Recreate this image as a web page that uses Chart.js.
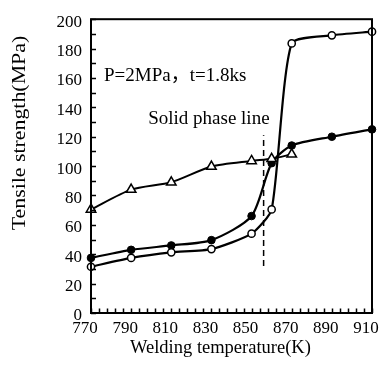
<!DOCTYPE html>
<html>
<head>
<meta charset="utf-8">
<script src="https://cdn.jsdelivr.net/npm/chart.js@4.4.1/dist/chart.umd.min.js"></script>
<style>
  html, body { margin: 0; padding: 0; background: #fff; }
  #wrap { width: 379px; height: 365px; }
</style>
</head>
<body>
<div id="wrap"><canvas id="myChart"></canvas></div>
<script>
// values: welding temperature (K) vs tensile strength (MPa)
var temp_open = [770, 790, 810, 830, 850, 860, 870, 890, 910];
var strength_open = [31.5, 37.5, 41.3, 43.5, 54, 70.5, 183.5, 189, 191.5];
var temp_filled = [770, 790, 810, 830, 850, 860, 870, 890, 910];
var strength_filled = [37.5, 43, 46, 49.6, 66, 102, 114, 120, 125];
var temp_tri = [770, 790, 810, 830, 850, 860, 870];
var strength_tri = [70.5, 84, 89, 99.7, 103.5, 105, 108];

var x_min = 770, x_max = 910, x_minor = 4, x_label_step = 20;
var y_min = 0, y_max = 200, y_minor = 10, y_label_step = 20;

var solidus_temp = 856;
var solidus_from = 32, solidus_to = 121;
var solidus_text = "Solid phase line";
var note_text = "P=2MPa\uFF0Ct=1.8ks";
var x_title = "Welding temperature(K)";
var y_title = "Tensile strength(MPa)";

var serif = '"Liberation Serif", "Noto Sans CJK SC", serif';

function pts(xs, ys) {
  return xs.map(function (x, i) { return { x: x, y: ys[i] }; });
}

Chart.defaults.font.family = serif;
Chart.defaults.font.size = 17;
Chart.defaults.color = "#000";

var extras = {
  id: "extras",
  afterDraw: function (chart) {
    var ctx = chart.ctx, a = chart.chartArea;
    var xs = chart.scales.x, ys = chart.scales.y;
    ctx.save();
    ctx.fillStyle = "#000";
    ctx.strokeStyle = "#000";

    // frame
    ctx.lineWidth = 2;
    ctx.strokeRect(a.left, a.top, a.right - a.left, a.bottom - a.top);

    // inner tick marks
    ctx.lineWidth = 1.5;
    ctx.beginPath();
    for (var v = x_min; v <= x_max; v += x_minor) {
      var px = Math.round(xs.getPixelForValue(v)) + 0.5;
      ctx.moveTo(px, a.bottom);
      ctx.lineTo(px, a.bottom - 4.5);
    }
    for (var w = y_min; w <= y_max; w += y_minor) {
      var py = Math.round(ys.getPixelForValue(w)) + 0.5;
      ctx.moveTo(a.left, py);
      ctx.lineTo(a.left + 5, py);
    }
    ctx.stroke();

    // solid phase line (dashed)
    ctx.lineWidth = 1.5;
    ctx.setLineDash([6, 4]);
    var sx = xs.getPixelForValue(solidus_temp);
    ctx.beginPath();
    ctx.moveTo(sx, ys.getPixelForValue(solidus_from));
    ctx.lineTo(sx, ys.getPixelForValue(solidus_to));
    ctx.stroke();
    ctx.setLineDash([]);

    // annotations
    ctx.font = "19px " + serif;
    ctx.textAlign = "left";
    ctx.textBaseline = "middle";
    ctx.fillText(note_text, xs.getPixelForValue(776.5), ys.getPixelForValue(161.5));
    ctx.fillText(solidus_text, xs.getPixelForValue(798.5), ys.getPixelForValue(132));

    // axis titles
    ctx.textAlign = "center";
    ctx.font = "18.5px " + serif;
    ctx.fillText(x_title, xs.getPixelForValue(834.5), 348);

    ctx.translate(20, ys.getPixelForValue(122.5));
    ctx.rotate(-Math.PI / 2);
    ctx.scale(1.15, 1);
    ctx.font = "19px " + serif;
    ctx.fillText(y_title, 0, 0);
    ctx.restore();
  }
};

var ctx = document.getElementById("myChart");

new Chart(ctx, {
  type: "line",
  data: {
    datasets: [
      {
        data: pts(temp_tri, strength_tri),
        borderColor: "#000",
        borderWidth: 2,
        pointStyle: "triangle",
        pointRadius: 5.5,
        pointBackgroundColor: "#fff",
        pointBorderColor: "#000",
        pointBorderWidth: 1.5,
        tension: 0.25,
        clip: false,
      },
      {
        data: pts(temp_open, strength_open),
        borderColor: "#000",
        borderWidth: 2.2,
        pointStyle: "circle",
        pointRadius: 3.6,
        pointBackgroundColor: "#fff",
        pointBorderColor: "#000",
        pointBorderWidth: 1.5,
        tension: 0.2,
        clip: false,
      },
      {
        data: pts(temp_filled, strength_filled),
        borderColor: "#000",
        borderWidth: 2.2,
        pointStyle: "circle",
        pointRadius: 3.8,
        pointBackgroundColor: "#000",
        pointBorderColor: "#000",
        pointBorderWidth: 1,
        tension: 0.25,
        clip: false,
      },
    ],
  },
  options: {
    responsive: true,
    maintainAspectRatio: false,
    animation: false,
    layout: { padding: { top: 16, right: 7, left: 0, bottom: 0 } },
    plugins: { legend: { display: false }, tooltip: { enabled: false } },
    scales: {
      x: {
        type: "linear",
        min: x_min,
        max: x_max,
        grid: { display: false, drawTicks: false },
        border: { display: false },
        ticks: {
          stepSize: x_minor,
          autoSkip: false,
          maxRotation: 0,
          padding: 5,
          labelOffset: -6,
          callback: function (v) {
            return (v - x_min) % x_label_step === 0 ? v : "";
          },
        },
        afterFit: function (s) {
          s.height = 52;
          s.paddingLeft = 0;
          s.paddingRight = 0;
        },
      },
      y: {
        min: y_min,
        max: y_max,
        grid: { display: false, drawTicks: false },
        border: { display: false },
        ticks: {
          stepSize: y_minor,
          autoSkip: false,
          padding: 9,
          labelOffset: 3,
          callback: function (v) {
            return v % y_label_step === 0 ? v : "";
          },
        },
        afterFit: function (s) {
          s.width = 91;
        },
      },
    },
  },
  plugins: [extras],
});
</script>
</body>
</html>
